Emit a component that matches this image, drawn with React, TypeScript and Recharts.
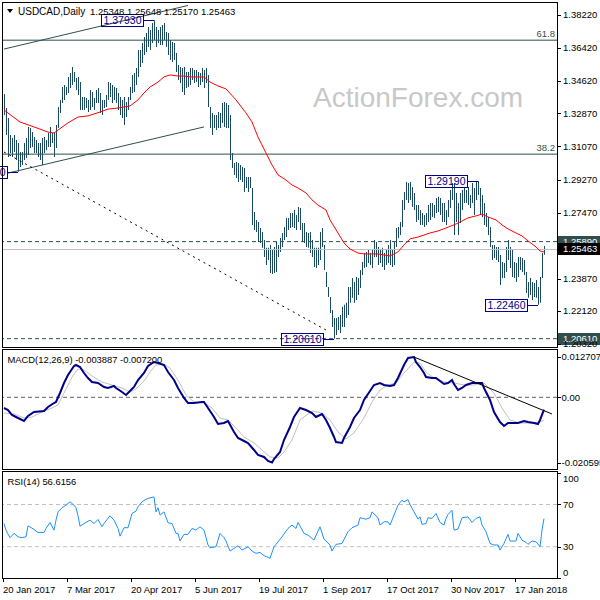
import React from 'react';
import { ComposedChart, Bar, Line, XAxis, YAxis, ReferenceLine, ReferenceDot } from 'recharts';

// ---------- data ----------
const HIGHS = [
  1.3392,1.3316,1.3262,1.3169,1.3153,1.3169,1.3142,1.3126,1.3077,1.3077,
  1.3126,1.3153,1.3213,1.3207,1.3185,1.3158,1.3142,1.3126,1.3126,1.3153,
  1.3158,1.3142,1.3180,1.3213,1.3180,1.3185,1.3224,1.3321,1.3360,1.3430,
  1.3441,1.3430,1.3485,1.3506,1.3539,1.3512,1.3479,1.3485,1.3457,1.3376,
  1.3376,1.3370,1.3360,1.3414,1.3403,1.3370,1.3414,1.3425,1.3398,1.3360,
  1.3360,1.3387,1.3457,1.3452,1.3441,1.3430,1.3425,1.3398,1.3376,1.3360,
  1.3376,1.3349,1.3376,1.3430,1.3496,1.3506,1.3534,1.3632,1.3632,1.3670,
  1.3702,1.3724,1.3757,1.3740,1.3778,1.3793,1.3757,1.3740,1.3757,1.3768,
  1.3778,1.3729,1.3724,1.3686,1.3675,1.3670,1.3615,1.3550,1.3539,1.3534,
  1.3539,1.3512,1.3512,1.3534,1.3534,1.3523,1.3523,1.3512,1.3506,1.3534,
  1.3523,1.3534,1.3496,1.3321,1.3289,1.3278,1.3278,1.3294,1.3289,1.3343,
  1.3349,1.3343,1.3332,1.3278,1.3071,1.3017,1.3022,1.3017,1.3006,1.2995,
  1.2990,1.2941,1.2941,1.2941,1.2881,1.2750,1.2707,1.2696,1.2663,1.2641,
  1.2598,1.2555,1.2555,1.2571,1.2544,1.2560,1.2587,1.2571,1.2609,1.2636,
  1.2669,1.2718,1.2718,1.2745,1.2745,1.2761,1.2734,1.2777,1.2772,1.2690,
  1.2690,1.2641,1.2636,1.2641,1.2598,1.2555,1.2555,1.2555,1.2641,1.2663,
  1.2571,1.2424,1.2342,1.2288,1.2217,1.2174,1.2174,1.2179,1.2190,1.2234,
  1.2246,1.2256,1.2342,1.2342,1.2391,1.2370,1.2397,1.2391,1.2435,1.2478,
  1.2527,1.2533,1.2544,1.2527,1.2544,1.2598,1.2587,1.2560,1.2544,1.2555,
  1.2527,1.2544,1.2571,1.2598,1.2544,1.2587,1.2663,1.2669,1.2696,1.2816,
  1.2859,1.2913,1.2908,1.2913,1.2886,1.2854,1.2788,1.2788,1.2761,1.2745,
  1.2734,1.2745,1.2788,1.2799,1.2799,1.2788,1.2827,1.2833,1.2827,1.2799,
  1.2799,1.2761,1.2816,1.2870,1.2908,1.2908,1.2854,1.2799,1.2854,1.2870,
  1.2886,1.2870,1.2886,1.2843,1.2908,1.2881,1.2913,1.2919,1.2881,1.2843,
  1.2799,1.2745,1.2723,1.2669,1.2571,1.2571,1.2560,1.2560,1.2516,1.2478,
  1.2473,1.2560,1.2598,1.2560,1.2544,1.2478,1.2473,1.2506,1.2506,1.2500,
  1.2489,1.2424,1.2370,1.2391,1.2370,1.2364,1.2380,1.2342,1.2397,1.2527,
  1.25648,
];

const LOWS = [
  1.3278,1.3169,1.3049,1.3071,1.3049,1.3077,1.3033,1.2969,1.2995,1.3006,
  1.3033,1.3044,1.3060,1.3098,1.3104,1.3071,1.3071,1.3049,1.3033,1.3006,
  1.3071,1.3088,1.3104,1.3104,1.3126,1.3049,1.3098,1.3207,1.3289,1.3343,
  1.3360,1.3387,1.3398,1.3425,1.3441,1.3457,1.3414,1.3387,1.3305,1.3305,
  1.3305,1.3316,1.3294,1.3305,1.3321,1.3305,1.3343,1.3343,1.3289,1.3278,
  1.3316,1.3321,1.3360,1.3376,1.3343,1.3360,1.3343,1.3305,1.3278,1.3262,
  1.3224,1.3267,1.3305,1.3360,1.3398,1.3403,1.3441,1.3485,1.3539,1.3561,
  1.3604,1.3621,1.3648,1.3632,1.3670,1.3686,1.3648,1.3670,1.3659,1.3659,
  1.3686,1.3648,1.3604,1.3577,1.3566,1.3577,1.3512,1.3468,1.3452,1.3403,
  1.3387,1.3425,1.3430,1.3441,1.3468,1.3452,1.3457,1.3430,1.3441,1.3457,
  1.3425,1.3452,1.3321,1.3207,1.3169,1.3207,1.3196,1.3207,1.3207,1.3235,
  1.3213,1.3207,1.3207,1.3033,1.2990,1.2952,1.2935,1.2913,1.2924,1.2913,
  1.2859,1.2881,1.2859,1.2881,1.2680,1.2652,1.2641,1.2587,1.2582,1.2555,
  1.2506,1.2462,1.2489,1.2418,1.2413,1.2418,1.2424,1.2506,1.2533,1.2560,
  1.2598,1.2614,1.2652,1.2663,1.2669,1.2663,1.2652,1.2696,1.2652,1.2587,
  1.2582,1.2560,1.2555,1.2527,1.2506,1.2451,1.2446,1.2462,1.2489,1.2560,
  1.2435,1.2342,1.2288,1.2201,1.2125,1.2061,1.2081,1.2108,1.2092,1.2125,
  1.2125,1.2174,1.2190,1.2256,1.2283,1.2256,1.2272,1.2299,1.2337,1.2408,
  1.2446,1.2451,1.2473,1.2462,1.2446,1.2506,1.2506,1.2462,1.2473,1.2451,
  1.2435,1.2462,1.2473,1.2462,1.2451,1.2462,1.2560,1.2609,1.2625,1.2669,
  1.2761,1.2816,1.2799,1.2816,1.2777,1.2761,1.2696,1.2707,1.2680,1.2680,
  1.2669,1.2680,1.2696,1.2707,1.2723,1.2718,1.2745,1.2750,1.2734,1.2696,
  1.2696,1.2680,1.2723,1.2772,1.2816,1.2625,1.2696,1.2625,1.2690,1.2761,
  1.2799,1.2799,1.2788,1.2772,1.2799,1.2734,1.2816,1.2843,1.2734,1.2723,
  1.2680,1.2669,1.2625,1.2560,1.2489,1.2500,1.2489,1.2478,1.2353,1.2391,
  1.2391,1.2424,1.2489,1.2446,1.2397,1.2391,1.2370,1.2397,1.2435,1.2424,
  1.2408,1.2310,1.2283,1.2299,1.2272,1.2288,1.2283,1.2246,1.2256,1.2391,
  1.2517,
];

const LAST_OHLC = [1.25348, 1.25648, 1.2517, 1.25463];

const MA_POINTS = [
  [0,1.3305],[8,1.324],[15,1.3213],[22,1.3185],[25,1.318],[27,1.3196],[32,1.3235],[37,1.3267],[42,1.3273],[48,1.3294],
  [52,1.331],[57,1.3316],[63,1.3327],[67,1.336],[70,1.3398],[73,1.343],[77,1.3457],[80,1.3485],[83,1.3496],[87,1.349],
  [90,1.349],[93,1.3485],[97,1.3485],[100,1.3485],[103,1.3457],[107,1.3436],[111,1.342],[116,1.336],[121,1.3289],[124,1.324],
  [127,1.3158],[131,1.3071],[134,1.3006],[137,1.2952],[141,1.2924],[144,1.2897],[147,1.2881],[151,1.2854],[154,1.2816],[157,1.2788],
  [161,1.2761],[163,1.2707],[167,1.2636],[170,1.2582],[173,1.2549],[177,1.2527],[180,1.2522],[183,1.2522],[187,1.2522],[190,1.2516],
  [193,1.2511],[197,1.2533],[200,1.2571],[203,1.2604],[207,1.2614],[210,1.2625],[213,1.2636],[217,1.2647],[221,1.2663],[226,1.2685],
  [229,1.2701],[232,1.2718],[236,1.2729],[239,1.2739],[242,1.2723],[246,1.2707],[249,1.268],[252,1.2658],[256,1.2636],[259,1.262],
  [262,1.2593],[266,1.256],[268,1.2538],[270,1.2533],
];

const MACD_POINTS = [
  [0,-0.00338],[2,-0.00401],[4,-0.00559],[6,-0.00622],[10,-0.00748],[12,-0.0059],[15,-0.00464],[20,-0.00432],[22,-0.00306],[25,-0.0018],
  [26,-0.00148],[28,0.00136],[30,0.00451],[32,0.00704],[35,0.00988],[36,0.0102],[38,0.00956],[40,0.00767],[42,0.00609],[44,0.00483],
  [47,0.00451],[50,0.00325],[52,0.00294],[55,0.00357],[56,0.00294],[59,0.00167],[61,0.00073],[62,0.00136],[65,0.00325],[67,0.00546],
  [70,0.00767],[72,0.00988],[75,0.01114],[77,0.01083],[80,0.0102],[82,0.00799],[85,0.00546],[87,0.00294],[90,-0.00022],[92,-0.0018],
  [95,-0.0018],[99,-0.00148],[100,-0.00148],[102,-0.00338],[105,-0.00622],[107,-0.00843],[110,-0.00811],[112,-0.00748],[115,-0.01095],[117,-0.01285],
  [120,-0.01379],[122,-0.01442],[125,-0.01663],[127,-0.01821],[130,-0.01884],[132,-0.02011],[134,-0.020595],[135,-0.01948],[138,-0.01727],[140,-0.01348],
  [143,-0.00937],[145,-0.00622],[148,-0.00338],[151,-0.00401],[154,-0.00496],[156,-0.00622],[159,-0.00527],[161,-0.00716],[163,-0.00969],[165,-0.01253],
  [166,-0.01411],[169,-0.01442],[170,-0.01285],[173,-0.00937],[175,-0.00653],[178,-0.00401],[180,-0.00085],[183,0.00199],[185,0.00388],[188,0.00451],
  [190,0.00388],[193,0.00357],[195,0.00388],[197,0.00609],[200,0.0102],[202,0.01241],[205,0.012707],[206,0.01114],[208,0.00956],[210,0.00767],
  [211,0.00641],[214,0.00609],[216,0.00609],[218,0.00514],[220,0.0042],[222,0.00451],[224,0.00546],[225,0.0042],[227,0.0023],[229,0.00294],
  [231,0.00388],[234,0.00451],[236,0.00451],[239,0.00451],[240,0.00294],[243,-0.00085],[245,-0.00464],[248,-0.0078],[250,-0.00906],[252,-0.00811],
  [255,-0.00811],[257,-0.00811],[260,-0.00748],[262,-0.0078],[265,-0.00811],[267,-0.00843],[268,-0.00716],[270,-0.003887],
];

const SIGNAL_POINTS = [
  [0,-0.00496],[5,-0.00527],[10,-0.00653],[14,-0.00622],[19,-0.00464],[24,-0.00338],[27,-0.00243],[30,0.00136],[34,0.00641],[37,0.00893],
  [40,0.00862],[44,0.00672],[49,0.00483],[54,0.00388],[59,0.00294],[63,0.00167],[66,0.00262],[70,0.00514],[73,0.00799],[76,0.0102],
  [80,0.01051],[83,0.00925],[87,0.00546],[91,0.00073],[95,-0.00148],[100,-0.0018],[104,-0.00338],[108,-0.00653],[112,-0.00716],[116,-0.00969],
  [120,-0.01253],[125,-0.01442],[129,-0.01663],[133,-0.01884],[137,-0.01916],[140,-0.01727],[144,-0.01348],[148,-0.00716],[154,-0.00433],[159,-0.00496],
  [163,-0.00716],[167,-0.01095],[171,-0.01316],[175,-0.01127],[180,-0.00653],[184,-0.00148],[188,0.0023],[192,0.00388],[196,0.00451],[200,0.00767],
  [205,0.01114],[208,0.01083],[211,0.00799],[215,0.00609],[220,0.00483],[225,0.00451],[230,0.00388],[235,0.00388],[240,0.00451],[245,0.00136],
  [249,-0.00338],[253,-0.00716],[258,-0.00811],[264,-0.00811],[268,-0.0078],[270,-0.0072],
];

const RSI_POINTS = [
  [0,52],[1,45.7],[3,38.5],[5,42.6],[7,39.4],[9,38.5],[11,39.4],[12,49.8],[15,46.4],[17,43.5],
  [20,43.5],[21,47.3],[23,53],[25,45.7],[26,55.2],[27,63],[29,66.9],[31,69.4],[33,72.5],[35,69.4],
  [36,66.9],[37,59.3],[38,49.5],[41,53],[43,55.2],[45,52],[47,55.8],[49,48.9],[50,52],[53,59.3],
  [55,55.2],[57,47.3],[58,40],[60,48],[62,48],[64,61.5],[66,63.7],[67,67.8],[69,72.5],[71,75],
  [73,76.3],[75,77.2],[76,63],[77,66.9],[78,60],[80,63],[82,52.7],[84,52],[86,42.6],[87,42.6],
  [88,35.4],[90,41.7],[92,41.7],[94,47.3],[96,45.7],[98,48.9],[100,45.7],[102,31.6],[103,29],[106,30],
  [108,42.6],[110,38.5],[111,35.4],[113,25.9],[115,28.4],[117,30.9],[119,26.8],[122,30],[124,25.9],[126,23.7],
  [128,24.6],[130,21.5],[133,19],[135,30],[136,32.2],[139,39.4],[142,47.3],[144,50.5],[146,47.3],[147,53],
  [150,42.6],[152,41],[155,36.3],[158,48.9],[160,37.2],[163,31.6],[164,25.9],[166,32.2],[169,33.1],[172,44.2],
  [174,48],[177,50.5],[178,57.4],[181,56.1],[183,57.4],[184,63],[187,57.4],[188,50.5],[190,53.6],[192,53.6],
  [193,50.5],[196,64.6],[197,69.4],[199,74.1],[200,72.5],[202,74.7],[203,70],[205,63],[207,56.1],[208,58.3],
  [209,51.1],[211,52],[212,57.4],[214,56.8],[216,61.5],[218,53],[220,50.5],[221,56.8],[222,60.6],[224,64.6],
  [225,45.7],[227,46.7],[229,57.4],[232,58.3],[234,53],[236,56.8],[238,58.3],[239,50.5],[241,44.2],[243,33.1],
  [245,31.6],[247,31.6],[248,26.8],[250,33.1],[252,41.7],[253,35.4],[256,35.4],[257,42.6],[259,36.3],[261,34.1],
  [262,32.2],[264,35.4],[266,34.7],[268,30],[269,45.7],[270,56.6156],
];

const PRICE_TICKS = [1.3822, 1.3642, 1.3462, 1.3287, 1.3107, 1.2927, 1.2747, 1.2387, 1.2212, 1.2032];
const MACD_TICKS = [0.012707, 0, -0.020595];
const MACD_TICK_LABELS = ['0.012707', '0.00', '-0.020595'];
const RSI_TICKS = [100, 70, 30, 0];
const RSI_LEVELS = [70, 30];
const DATE_TICKS = [0, 32, 64, 96, 128, 160, 192, 224, 256];
const DATE_LABELS = ['20 Jan 2017', '7 Mar 2017', '20 Apr 2017', '5 Jun 2017', '19 Jul 2017', '1 Sep 2017', '17 Oct 2017', '30 Nov 2017', '17 Jan 2018'];
const FIB_LEVELS = [1.3685, 1.3065];
const FIB_LABELS = ['61.8', '38.2'];
const SR_LEVELS = [1.2589, 1.2061];
const PIVOTS = [[7, 'low'], [75, 'high'], [165, 'low'], [237, 'high'], [267, 'low']];
const CHANNEL_UPPER = [[0, 1.36367], [92, 1.3874]];
const CHANNEL_LOWER = [[2, 1.2962], [100, 1.3213]];
const DOTTED_TREND = [[0, 1.30766], [161, 1.21082]];
const MACD_TREND = [[205, 0.012707], [274, -0.00527]];

// ---------- layout / style ----------
const SLOTS = 277;
const PRICE_DOMAIN = [1.201568, 1.389273];
const MACD_DOMAIN = [-0.022633, 0.015246];
const RSI_DOMAIN = [0.33, 101.75];
const FONT = '"Liberation Sans", Arial, Helvetica, sans-serif';
const BAR_COLOR = '#1b4a60';
const SLATE = '#2f4f4f';
const NAVY = '#00008b';
const MARGIN = { top: 0, right: 0, bottom: 0, left: 3 };
const AXIS_W = 43;

const rows: any[] = [];
for (let i = 0; i < SLOTS; i++) rows.push({ i });
HIGHS.forEach((h, i) => { rows[i].hl = [LOWS[i], h]; });
MA_POINTS.forEach(([i, v]) => { rows[i].ma = v; });
MACD_POINTS.forEach(([i, v]) => { rows[i].macd = v; });
SIGNAL_POINTS.forEach(([i, v]) => { rows[i].signal = v; });
RSI_POINTS.forEach(([i, v]) => { rows[i].rsi = v; });

const seg = (pts: number[][]) => pts.map(([x, y]) => ({ x, y }));

function makeTick(format: (v: number) => string, textDx: number, nudge?: (v: number) => number) {
  return (props: any) => {
    const { x, y, payload } = props;
    const yy = Math.round(y) + 0.5;
    const xx = Math.round(x);
    return (
      <g>
        <line x1={xx} x2={xx + 4} y1={yy} y2={yy} stroke="#000" />
        <text x={xx + textDx} y={y + (nudge ? nudge(payload.value) : 0)} dy="0.35em" fontSize={9.5} fontFamily={FONT} fill="#000">
          {format(payload.value)}
        </text>
      </g>
    );
  };
}

const priceTick = makeTick((v) => v.toFixed(5), 6);
const macdTick = makeTick((v) => MACD_TICK_LABELS[MACD_TICKS.indexOf(v)], 4.5);
const rsiTick = makeTick((v) => String(v), 6, (v) => (v === 100 ? 6 : v === 0 ? -5.5 : 0));

const DateTick = (props: any) => {
  const { x, y, payload } = props;
  const label = DATE_LABELS[DATE_TICKS.indexOf(payload.value)];
  const xx = Math.floor(x) - 0.5;
  return (
    <g>
      <line x1={xx} x2={xx} y1={y} y2={y + 4} stroke="#000" />
      <text x={xx - 0.5} y={y + 15} fontSize={9.5} fontFamily={FONT} fill="#000">{label}</text>
    </g>
  );
};

const AxisBox = (props: any) => {
  const { viewBox, text, bg } = props;
  const x = viewBox.x + viewBox.width + 1;
  const y = Math.round(viewBox.y);
  return (
    <g>
      <rect x={x} y={y - 6} width={44} height={12} fill={bg} />
      <text x={x + 5} y={y} dy="0.35em" fontSize={9.5} fontFamily={FONT} fill="#fff">{text}</text>
    </g>
  );
};

const FibLabel = (props: any) => {
  const { viewBox, text } = props;
  return (
    <text x={viewBox.x + viewBox.width - 2} y={viewBox.y - 3} textAnchor="end" fontSize={9.5} fontFamily={FONT} fill={SLATE}>
      {text}
    </text>
  );
};

const PivotBox = (props: any) => {
  const { cx, cy, text } = props;
  const w = 42;
  const h = 12;
  const right = Math.round(cx) - 10.5;
  const yy = Math.round(cy) + 0.5;
  return (
    <g>
      <line x1={right} x2={cx} y1={yy} y2={yy} stroke={NAVY} />
      <rect x={right - w} y={yy - h / 2} width={w} height={h} fill="none" stroke={NAVY} />
      <text x={right - w / 2} y={yy} dy="0.36em" textAnchor="middle" fontSize={10.5} fontFamily={FONT} fill={NAVY}>
        {text}
      </text>
    </g>
  );
};

function MainChart() {
  return (
    <ComposedChart width={600} height={350} data={rows} margin={{ ...MARGIN, top: 2, bottom: 3 }}>
      <XAxis dataKey="i" type="category" scale="band" hide />
      <YAxis
        orientation="right"
        width={AXIS_W}
        type="number"
        domain={PRICE_DOMAIN}
        allowDataOverflow
        ticks={PRICE_TICKS}
        interval={0}
        tick={priceTick}
        tickLine={false}
        axisLine={false}
        tickSize={0}
        tickMargin={0}
      />
      {FIB_LEVELS.map((lv, k) => (
        <ReferenceLine key={'fib' + k} y={lv} stroke={SLATE} strokeWidth={1} label={<FibLabel text={FIB_LABELS[k]} />} />
      ))}
      <ReferenceLine y={LAST_OHLC[3]} stroke="#c0c0c0" strokeWidth={1} />
      <ReferenceLine y={SR_LEVELS[0]} stroke={SLATE} strokeDasharray="4 3" label={<AxisBox text={SR_LEVELS[0].toFixed(5)} bg={SLATE} />} />
      <ReferenceLine y={LAST_OHLC[3]} stroke="none" label={<AxisBox text={LAST_OHLC[3].toFixed(5)} bg="#000" />} />
      <ReferenceLine y={SR_LEVELS[1]} stroke={SLATE} strokeDasharray="4 3" label={<AxisBox text={SR_LEVELS[1].toFixed(5)} bg={SLATE} />} />
      <ReferenceLine segment={seg(CHANNEL_UPPER)} stroke={SLATE} ifOverflow="visible" />
      <ReferenceLine segment={seg(CHANNEL_LOWER)} stroke={SLATE} ifOverflow="visible" />
      <ReferenceLine segment={seg(DOTTED_TREND)} stroke="#000" strokeDasharray="2 4" ifOverflow="visible" />
      <Bar dataKey="hl" fill={BAR_COLOR} barSize={1} isAnimationActive={false} />
      <Line dataKey="ma" stroke="#ff0000" strokeWidth={1} dot={false} connectNulls isAnimationActive={false} />
      {PIVOTS.map(([i, kind]: any) => {
        const v = kind === 'high' ? HIGHS[i] : LOWS[i];
        return (
          <ReferenceDot
            key={'pv' + i}
            x={i}
            y={v}
            r={0}
            ifOverflow="visible"
            shape={(p: any) => <PivotBox cx={p.cx} cy={p.cy} text={v.toFixed(5)} />}
          />
        );
      })}
    </ComposedChart>
  );
}

function MacdChart() {
  return (
    <ComposedChart width={600} height={120} data={rows} margin={MARGIN}>
      <XAxis dataKey="i" type="category" scale="band" hide />
      <YAxis
        orientation="right"
        width={AXIS_W}
        type="number"
        domain={MACD_DOMAIN}
        allowDataOverflow
        ticks={MACD_TICKS}
        interval={0}
        tick={macdTick}
        tickLine={false}
        axisLine={false}
        tickSize={0}
        tickMargin={0}
      />
      <ReferenceLine y={0} stroke="#606060" strokeDasharray="4 3" />
      <Line dataKey="signal" stroke="#c0c0c0" strokeWidth={1} dot={false} connectNulls isAnimationActive={false} />
      <Line dataKey="macd" stroke={NAVY} strokeWidth={2} dot={false} connectNulls isAnimationActive={false} />
      <ReferenceLine segment={seg(MACD_TREND)} stroke="#000" ifOverflow="visible" />
    </ComposedChart>
  );
}

function RsiChart() {
  return (
    <ComposedChart width={600} height={129} data={rows} margin={MARGIN}>
      <XAxis
        dataKey="i"
        type="category"
        scale="band"
        ticks={DATE_TICKS}
        interval={0}
        height={22}
        tick={DateTick}
        tickLine={false}
        axisLine={false}
        tickSize={0}
        tickMargin={0}
      />
      <YAxis
        orientation="right"
        width={AXIS_W}
        type="number"
        domain={RSI_DOMAIN}
        allowDataOverflow
        ticks={RSI_TICKS}
        interval={0}
        tick={rsiTick}
        tickLine={false}
        axisLine={false}
        tickSize={0}
        tickMargin={0}
      />
      {RSI_LEVELS.map((lv) => (
        <ReferenceLine key={'rl' + lv} y={lv} stroke="#c0c0c0" strokeDasharray="4 3" />
      ))}
      <Line dataKey="rsi" stroke="#1e90ff" strokeWidth={1} dot={false} connectNulls isAnimationActive={false} />
    </ComposedChart>
  );
}

const frame = (top: number, height: number): React.CSSProperties => ({
  position: 'absolute',
  left: 2,
  top,
  width: 556,
  height,
  border: '1px solid #000',
  boxSizing: 'border-box',
  pointerEvents: 'none',
});

export default function App() {
  const last = LAST_OHLC.map((v) => v.toFixed(5)).join(' ');
  const macdLast = MACD_POINTS[MACD_POINTS.length - 1][1];
  const sigLast = SIGNAL_POINTS[SIGNAL_POINTS.length - 1][1];
  const rsiLast = RSI_POINTS[RSI_POINTS.length - 1][1];
  return (
    <div style={{ position: 'absolute', left: 0, top: 0, width: 600, height: 600, background: '#fff', overflow: 'hidden' }}>
      <div style={{ position: 'absolute', left: 0, top: 0 }}>
        <MainChart />
      </div>
      <div style={{ position: 'absolute', left: 0, top: 349 }}>
        <MacdChart />
      </div>
      <div style={{ position: 'absolute', left: 0, top: 471 }}>
        <RsiChart />
      </div>
      <div style={frame(2, 346)} />
      <div style={frame(349, 121)} />
      <div style={frame(471, 108)} />
      <svg width={600} height={600} style={{ position: 'absolute', left: 0, top: 0, pointerEvents: 'none' }}>
        <text x={313} y={107} fontSize={28} fontFamily={FONT} fill="#c8c8c8">ActionForex.com</text>
        <polygon points="7,9 13,9 10,13" fill="#000" />
        <text x={18} y={14.5} fontSize={10} fontFamily={FONT} fill="#000">USDCAD,Daily</text>
        <text x={90} y={14.5} fontSize={9.5} fontFamily={FONT} fill="#000">{last}</text>
        <text x={7.5} y={362.5} fontSize={9.4} fontFamily={FONT} fill="#000">
          {`MACD(12,26,9) ${macdLast.toFixed(6)} ${sigLast.toFixed(6)}`}
        </text>
        <text x={7.5} y={484.5} fontSize={9.4} fontFamily={FONT} fill="#000">{`RSI(14) ${rsiLast.toFixed(4)}`}</text>
      </svg>
    </div>
  );
}
